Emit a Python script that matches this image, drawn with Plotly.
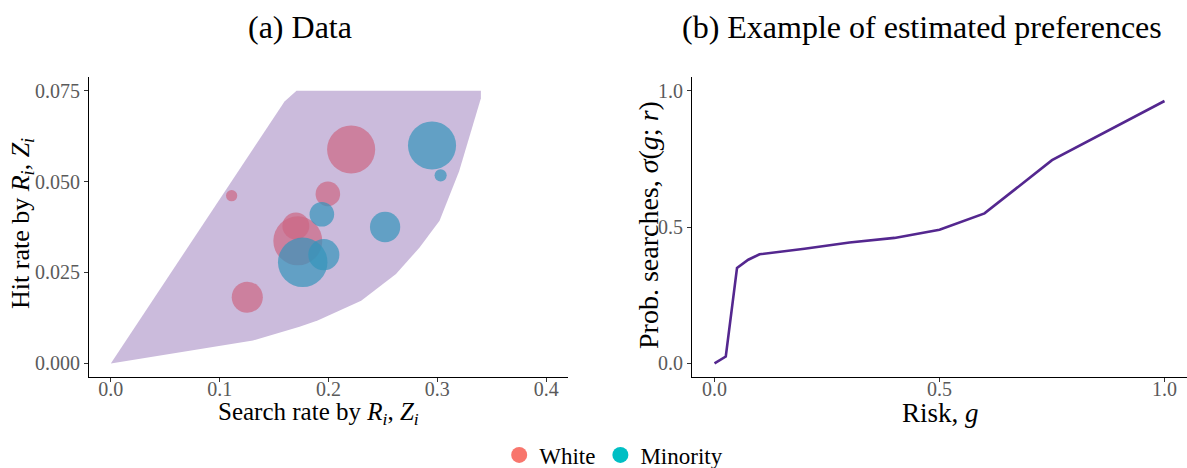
import plotly.graph_objects as go

# ---------------- data ----------------
# (a) feasible region (hull) in search-rate / hit-rate space
hull_search = [0.0, 0.066, 0.1306, 0.1734, 0.190, 0.230, 0.262, 0.2835, 0.302,
               0.320, 0.3324, 0.340, 0.340, 0.1706, 0.1596, 0.0]
hull_hit = [0.0, 0.0031, 0.0063, 0.0101, 0.0118, 0.0172, 0.0246, 0.0318, 0.0392,
            0.0528, 0.0656, 0.0729, 0.075, 0.075, 0.072, 0.0]

# White groups
white_search = [0.111, 0.1254, 0.2208, 0.1994, 0.170, 0.1718]
white_hit = [0.0461, 0.0182, 0.0588, 0.0466, 0.0378, 0.0337]
white_share = [0.052, 0.395, 0.944, 0.247, 0.295, 0.977]

# Minority groups
min_search = [0.2951, 0.303, 0.1939, 0.252, 0.1957, 0.1763]
min_hit = [0.0599, 0.0517, 0.0410, 0.0375, 0.0299, 0.0278]
min_share = [0.944, 0.060, 0.247, 0.374, 0.395, 1.0]

# (b) estimated preferences
risk = [0.0, 0.025, 0.05, 0.075, 0.1, 0.2, 0.3, 0.4, 0.5, 0.6, 0.75, 1.0]
prob_search = [0.0, 0.025, 0.35, 0.38, 0.40, 0.42, 0.443, 0.46, 0.49, 0.55, 0.745, 0.962]

x_ticks_a = [0.0, 0.1, 0.2, 0.3, 0.4]
y_ticks_a = [0.0, 0.025, 0.05, 0.075]
x_ticks_b = [0.0, 0.5, 1.0]
y_ticks_b = [0.0, 0.5, 1.0]

# ---------------- styling ----------------
FONT = "Liberation Serif"
TICKC = "#5a5a5a"
W, H = 1187, 468
max_share = max(white_share + min_share)
SIZEREF = max_share / (35 ** 2)

fig = go.Figure()

fig.add_trace(go.Scatter(
    x=hull_search, y=hull_hit, mode="lines", fill="toself",
    fillcolor="rgb(203,187,220)", line=dict(width=0, color="rgb(203,187,220)"),
    hoverinfo="skip", showlegend=False, xaxis="x", yaxis="y"))

fig.add_trace(go.Scatter(
    x=white_search, y=white_hit, mode="markers", name="White", showlegend=False,
    marker=dict(size=white_share, sizemode="area", sizeref=SIZEREF,
                color="rgb(204,103,131)", opacity=0.7, line=dict(width=0)),
    xaxis="x", yaxis="y"))

fig.add_trace(go.Scatter(
    x=min_search, y=min_hit, mode="markers", name="Minority", showlegend=False,
    marker=dict(size=min_share, sizemode="area", sizeref=SIZEREF,
                color="rgb(53,148,186)", opacity=0.7, line=dict(width=0)),
    xaxis="x", yaxis="y"))

# legend keys
fig.add_trace(go.Scatter(x=[None], y=[None], mode="markers", name="White",
                         marker=dict(size=18, color="#F8766D"), xaxis="x", yaxis="y"))
fig.add_trace(go.Scatter(x=[None], y=[None], mode="markers", name="Minority",
                         marker=dict(size=18, color="#00BFC4"), xaxis="x", yaxis="y"))

fig.add_trace(go.Scatter(
    x=risk, y=prob_search, mode="lines", showlegend=False,
    line=dict(color="#54278F", width=2.6), xaxis="x2", yaxis="y2"))

axis_common = dict(
    showline=True, linecolor="black", linewidth=1.2, showgrid=False, zeroline=False,
    ticks="outside", ticklen=4, tickcolor="#333333", tickwidth=1,
    tickfont=dict(family=FONT, size=20, color=TICKC), automargin=False)


def ann(text, px, py, size, angle=0):
    return dict(text=text, x=px / W, y=(H - py) / H, xref="paper", yref="paper",
                showarrow=False, xanchor="center", yanchor="middle", textangle=angle,
                font=dict(family=FONT, size=size, color="black"))


fig.update_layout(
    width=W, height=H,
    margin=dict(l=0, r=0, t=0, b=0, autoexpand=False),
    paper_bgcolor="white", plot_bgcolor="white",
    font=dict(family=FONT, color="black"),
    xaxis=dict(axis_common, domain=[0.075, 0.4785], range=[-0.02, 0.42],
               tickvals=x_ticks_a, ticktext=[f"{v:.1f}" for v in x_ticks_a], anchor="y",
               ticklabelstandoff=-10),
    yaxis=dict(axis_common, domain=[0.1944, 0.8355], range=[-0.00375, 0.07875],
               tickvals=y_ticks_a, ticktext=[f"{v:.3f}" for v in y_ticks_a], anchor="x"),
    xaxis2=dict(axis_common, domain=[0.583, 1.0], range=[-0.05, 1.05],
                tickvals=x_ticks_b, ticktext=[f"{v:.1f}" for v in x_ticks_b], anchor="y2",
                ticklabelstandoff=-10),
    yaxis2=dict(axis_common, domain=[0.1944, 0.8355], range=[-0.05, 1.05],
                tickvals=y_ticks_b, ticktext=[f"{v:.1f}" for v in y_ticks_b], anchor="x2"),
    legend=dict(orientation="h", x=0.517, xanchor="center", y=(H - 455) / H, yanchor="middle",
                font=dict(family=FONT, size=23, color="black"), bgcolor="rgba(0,0,0,0)"),
    annotations=[
        ann("(a) Data", 300, 27, 32),
        ann("(b) Example of estimated preferences", 922, 27, 32),
        ann("Search rate by <i>R<sub>i</sub></i>, <i>Z<sub>i</sub></i>", 318, 413, 25),
        ann("Hit rate by <i>R<sub>i</sub></i>, <i>Z<sub>i</sub></i>", 22, 224, 26, -90),
        ann("Risk, <i>g</i>", 940, 413, 27),
        ann("Prob. searches, <i>σ</i>(<i>g</i>; <i>r</i>)", 649, 225, 28, -90),
    ],
)

fig.write_html("out.html", config={"displayModeBar": False},
               post_script="document.body.style.margin='0';")
